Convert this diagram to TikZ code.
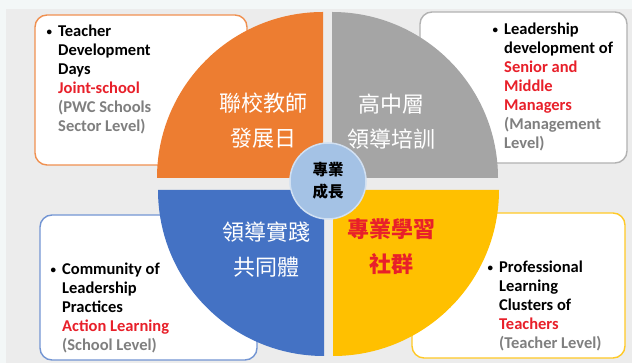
\documentclass[tikz,border=0pt]{standalone}
\usepackage{fontspec}
\setmainfont{Carlito}
\newfontfamily\cjk{Noto Sans CJK TC}
\usetikzlibrary{positioning}

\definecolor{qOrange}{HTML}{ED7D31}
\definecolor{qGray}{HTML}{A5A5A5}
\definecolor{qBlue}{HTML}{4472C4}
\definecolor{qYellow}{HTML}{FFC000}
\definecolor{hubBlue}{HTML}{A4C2E5}
\definecolor{txtRed}{HTML}{E8202A}
\definecolor{txtGray}{HTML}{7F7F7F}
\definecolor{bgOuter}{HTML}{F3F7F7}
\definecolor{bgPanel}{HTML}{ECECEC}

\newcommand{\bul}{\llap{\raisebox{1.5pt}{\fontsize{11}{11}\selectfont\textbullet}\hspace{6pt}}}

\begin{document}
\begin{tikzpicture}[x=1pt,y=1pt,
	BoxStyle/.style={line width=1.4pt, fill=white, rounded corners=12pt},
	BoxText/.style={anchor=north west, inner sep=0pt, align=left,
		font=\fontsize{16.5}{19}\selectfont\bfseries},
	QuarterText/.style={text=white, align=center, inner sep=0pt,
		font=\cjk\fontsize{22}{35}\selectfont}]
	\useasboundingbox (0,0) rectangle (632,363);
	\fill[bgOuter] (0,0) rectangle (632,363);
	\fill[bgPanel] (6,0) rectangle (632,354);
	% boxes behind the circle
	\draw[BoxStyle, draw=qOrange!85!white] (35,348) rectangle (247,198);
	\draw[BoxStyle, draw=qGray!85!white] (420,351) rectangle (627,200);
	\draw[BoxStyle, draw=qBlue!75!white] (40,148) rectangle (257,3);
	\draw[BoxStyle, draw=qYellow!85!white] (412,150) rectangle (625,5);
	\node[BoxText] (tlText) at (58,338) {\bul Teacher\\Development\\Days\\
		\textcolor{txtRed}{Joint-school}\\\textcolor{txtGray}{(PWC Schools}\\
		\textcolor{txtGray}{Sector Level)}};
	\node[BoxText] (trText) at (504,340) {\bul Leadership\\development of\\
		\textcolor{txtRed}{Senior and}\\\textcolor{txtRed}{Middle}\\
		\textcolor{txtRed}{Managers}\\\textcolor{txtGray}{(Management}\\
		\textcolor{txtGray}{Level)}};
	\node[BoxText] (blText) at (62,100) {\bul Community of\\Leadership\\Practices\\
		\textcolor{txtRed}{Action Learning}\\\textcolor{txtGray}{(School Level)}};
	\node[BoxText] (brText) at (499,102) {\bul Professional\\Learning\\Clusters of\\
		\textcolor{txtRed}{Teachers}\\\textcolor{txtGray}{(Teacher Level)}};
	% four quarters
	\fill[qOrange] (323,185) -- ++(-166,0) arc[start angle=180, end angle=90, radius=166] -- cycle;
	\fill[qGray] (332,185) -- ++(0,166) arc[start angle=90, end angle=0, radius=166] -- cycle;
	\fill[qBlue] (324,173) -- ++(-166,0) arc[start angle=180, end angle=270, radius=166] -- cycle;
	\fill[qYellow] (333,173) -- ++(166,0) arc[start angle=0, end angle=-90, radius=166] -- cycle;
	\node[QuarterText] (orangeLbl) at (263,242) {聯校教師\\發展日};
	\node[QuarterText] (grayLbl) at (391,241) {高中層\\領導培訓};
	\node[QuarterText] (blueLbl) at (266,113) {領導實踐\\共同體};
	\node[QuarterText, text=txtRed, font=\cjk\bfseries\fontsize{22}{35}\selectfont] (yellowLbl) at (391,116) {專業學習\\社群};
	% hub
	\node[circle, minimum size=76pt, fill=hubBlue, draw=hubBlue!50!white, line width=1.5pt,
		align=center, inner sep=0pt, font=\cjk\bfseries\fontsize{15.5}{22}\selectfont] (hub) at (328,182) {專業\\成長};
\end{tikzpicture}
\end{document}
